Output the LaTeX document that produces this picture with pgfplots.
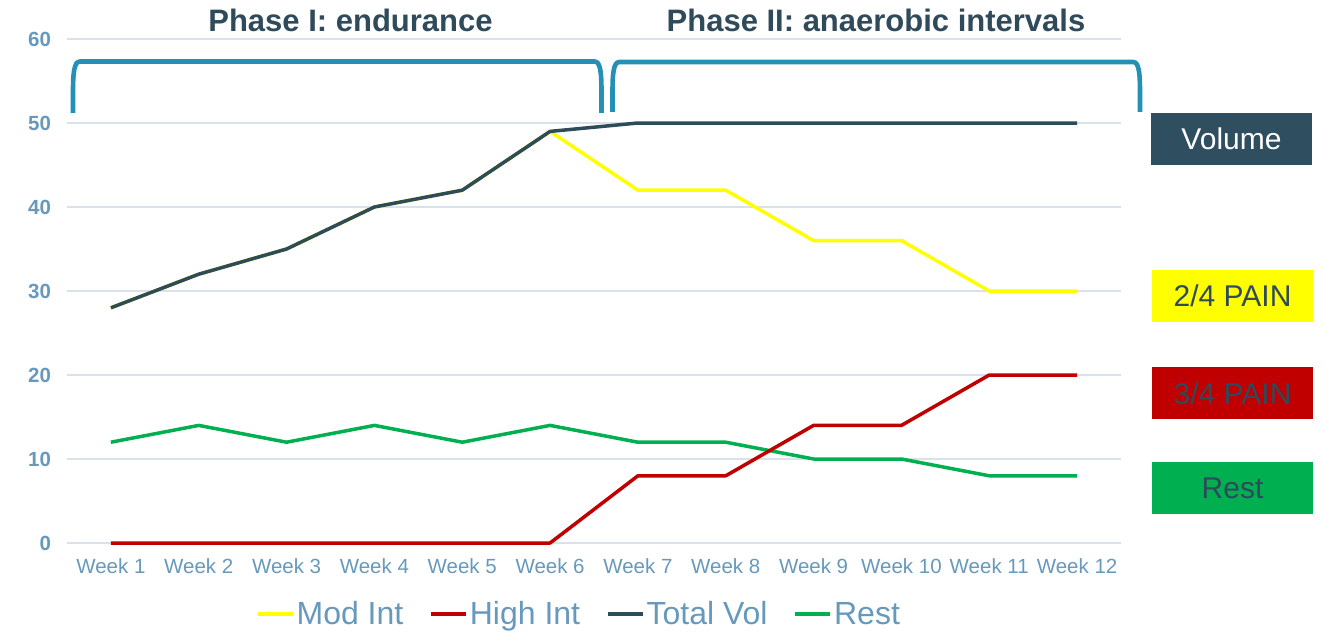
\documentclass[border=0pt]{standalone}
\usepackage{pgfplots}
\pgfplotsset{compat=1.18}
\usepackage{fontspec}
\setmainfont{Liberation Sans}

\definecolor{modc}{HTML}{FFFF00}
\definecolor{highc}{HTML}{C00000}
\definecolor{volc}{HTML}{2E4B59}
\definecolor{restc}{HTML}{00B050}
\definecolor{tickc}{HTML}{6699BB}
\definecolor{gridc}{HTML}{D9E2EA}
\definecolor{titlec}{HTML}{2F4A5A}
\definecolor{bracec}{HTML}{2590B5}
\definecolor{volbox}{HTML}{2F4E5F}

\begin{document}
\begin{tikzpicture}[x=1pt,y=1pt]
\path[use as bounding box] (0,0) rectangle (1323,641);
\begin{axis}[
  at={(67pt,98pt)}, anchor=south west,
  scale only axis, width=1054pt, height=504pt,
  xmin=-0.5, xmax=11.5, ymin=0, ymax=60,
  xtick={0,...,11},
  xticklabels={Week 1,Week 2,Week 3,Week 4,Week 5,Week 6,Week 7,Week 8,Week 9,Week 10,Week 11,Week 12},
  ytick={0,10,...,60},
  ymajorgrids, grid style={gridc, line width=1.2pt},
  axis line style={draw=none},
  major tick length=0pt,
  /pgf/number format/assume math mode=true,
  xticklabel style={font=\fontsize{20.5}{21}\selectfont, text=tickc, yshift=-12pt},
  yticklabel style={font=\bfseries\fontsize{20.5}{21}\selectfont, text=tickc, xshift=-12.5pt},
  clip=false,
  legend columns=4,
  legend style={at={(0.4858,-0.1409)}, anchor=center, draw=none, fill=none,
    font=\fontsize{32}{34}\selectfont, text=tickc,
    /tikz/every even column/.append style={column sep=24pt},
    nodes={inner sep=2pt}},
  legend image code/.code={\draw[#1] (0pt,0pt) -- (35pt,0pt);},
  every axis plot/.append style={line width=3.5pt, line join=round},
]
% rest sits underneath the other series
\addplot[restc, forget plot] coordinates {(0,12)(1,14)(2,12)(3,14)(4,12)(5,14)(6,12)(7,12)(8,10)(9,10)(10,8)(11,8)};
\addplot[modc] coordinates {(0,28)(1,32)(2,35)(3,40)(4,42)(5,49)(6,42)(7,42)(8,36)(9,36)(10,30)(11,30)};
\addlegendentry{Mod Int}
\addplot[highc] coordinates {(0,0)(1,0)(2,0)(3,0)(4,0)(5,0)(6,8)(7,8)(8,14)(9,14)(10,20)(11,20)};
\addlegendentry{High Int}
\addplot[volc] coordinates {(0,28)(1,32)(2,35)(3,40)(4,42)(5,49)(6,50)(7,50)(8,50)(9,50)(10,50)(11,50)};
\addlegendentry{Total Vol}
\addlegendimage{restc, line width=3.5pt}
\addlegendentry{Rest}
\end{axis}

% phase brackets and titles
\begin{scope}[bracec, line width=4.6pt]
\draw (73,528) -- (73,548) .. controls (73,568) and (74,579.5) .. (80,579.5)
  -- (594.5,579.5) .. controls (600.5,579.5) and (601.5,568) .. (601.5,548) -- (601.5,528);
\draw (612.5,529) -- (612.5,548) .. controls (612.5,568) and (613.5,579) .. (619.5,579)
  -- (1133,579) .. controls (1139,579) and (1140,568) .. (1140,548) -- (1140,529);
\end{scope}
\node[anchor=base, text=titlec, font=\bfseries\fontsize{31}{33}\selectfont] at (350.5,609.5) {Phase I: endurance};
\node[anchor=base, text=titlec, font=\bfseries\fontsize{31}{33}\selectfont] at (876,609.5) {Phase II: anaerobic intervals};

% side labels
\fill[volbox] (1151,476.3) rectangle (1312,527.7);
\node[anchor=base, text=white, font=\fontsize{30}{32}\selectfont] at (1231.5,491.7) {Volume};
\fill[modc] (1152,319.3) rectangle (1313,371);
\node[anchor=base, text=titlec, font=\fontsize{30}{32}\selectfont] at (1232.5,334.3) {2/4 PAIN};
\fill[highc] (1152,222.3) rectangle (1313,274.3);
\node[anchor=base, text=titlec, font=\fontsize{30}{32}\selectfont] at (1232.5,237) {3/4 PAIN};
\fill[restc] (1152,127) rectangle (1313,179);
\node[anchor=base, text=titlec, font=\fontsize{30}{32}\selectfont] at (1232.5,142.3) {Rest};
\end{tikzpicture}
\end{document}
